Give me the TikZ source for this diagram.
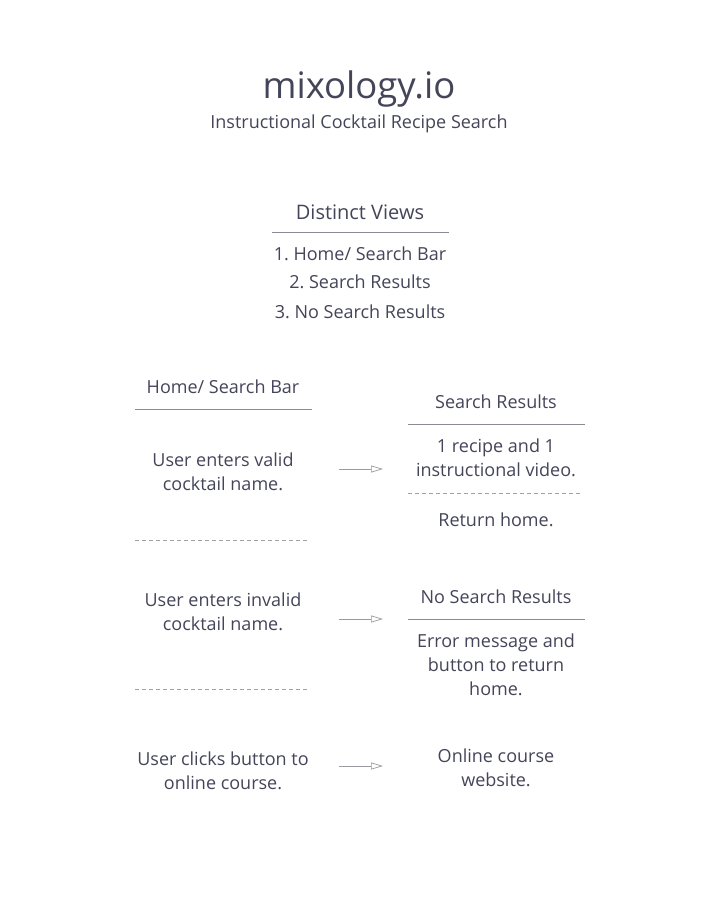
\documentclass[tikz,border=0pt]{standalone}
\usepackage{fontspec}
\setmainfont{Open Sans}
\usetikzlibrary{arrows.meta}
\definecolor{txt}{HTML}{45455A}
\definecolor{ln}{HTML}{8A8A90}
\definecolor{dl}{HTML}{A0A0A5}
\definecolor{ar}{HTML}{9A9AA0}
\frenchspacing
\begin{document}
\begin{tikzpicture}[x=1pt,y=-1pt,
  every node/.style={text=txt,inner sep=0pt,align=center},
  body/.style={font=\fontsize{18}{24}\selectfont},
  solidline/.style={draw=ln,line width=0.8pt},
  dashline/.style={draw=dl,line width=0.8pt,dash pattern=on 4pt off 3pt},
  flow/.style={draw=ar,line width=0.7pt,-{Triangle[open,length=12pt,width=7pt]}}]
\useasboundingbox[fill=white] (0,0) rectangle (724,901);
\node (title) at (359,89) {\fontsize{36.5}{40}\selectfont mixology.io};
\node (sub) at (359,124) {\fontsize{18}{24}\selectfont Instructional Cocktail Recipe Search};
\node (dv) at (360,212) {\fontsize{20}{24}\selectfont Distinct Views};
\coordinate (dvl) at (272,232); \coordinate (dvr) at (449,232);
\draw[solidline] (dvl) -- (dvr);
\node[body] (v1) at (360,254) {1. Home/ Search Bar};
\node[body] (v2) at (360,282) {2. Search Results};
\node[body] (v3) at (360,312) {3. No Search Results};
% left column
\node[body] (hs) at (223,387) {Home/ Search Bar};
\coordinate (hl1) at (135,409); \coordinate (hl2) at (312,409);
\draw[solidline] (hl1) -- (hl2);
\node[body] (a1) at (223,472) {User enters valid\\cocktail name.};
\coordinate (d1a) at (135,540); \coordinate (d1b) at (308,540);
\draw[dashline] (d1a) -- (d1b);
\node[body] (a2) at (223,612) {User enters invalid\\cocktail name.};
\coordinate (d2a) at (135,689); \coordinate (d2b) at (308,689);
\draw[dashline] (d2a) -- (d2b);
\node[body] (a3) at (223,771) {User clicks button to\\online course.};
% right column
\node[body] (sr) at (496,402) {Search Results};
\coordinate (sl1) at (408,424); \coordinate (sl2) at (585,424);
\draw[solidline] (sl1) -- (sl2);
\node[body] (b1) at (496,458) {1 recipe and 1\\instructional video.};
\coordinate (d3a) at (408,493); \coordinate (d3b) at (581,493);
\draw[dashline] (d3a) -- (d3b);
\node[body] (b1r) at (496,520) {Return home.};
\node[body] (nr) at (496,597) {No Search Results};
\coordinate (nl1) at (408,619); \coordinate (nl2) at (585,619);
\draw[solidline] (nl1) -- (nl2);
\node[body] (b2) at (496,665) {Error message and\\button to return\\home.};
\node[body] (b3) at (496,768) {Online course\\website.};
% arrows
\coordinate (f1s) at (339,469); \coordinate (f1e) at (383,469);
\coordinate (f2s) at (339,619); \coordinate (f2e) at (383,619);
\coordinate (f3s) at (339,766); \coordinate (f3e) at (383,766);
\draw[flow] (f1s) -- (f1e);
\draw[flow] (f2s) -- (f2e);
\draw[flow] (f3s) -- (f3e);
\end{tikzpicture}
\end{document}
